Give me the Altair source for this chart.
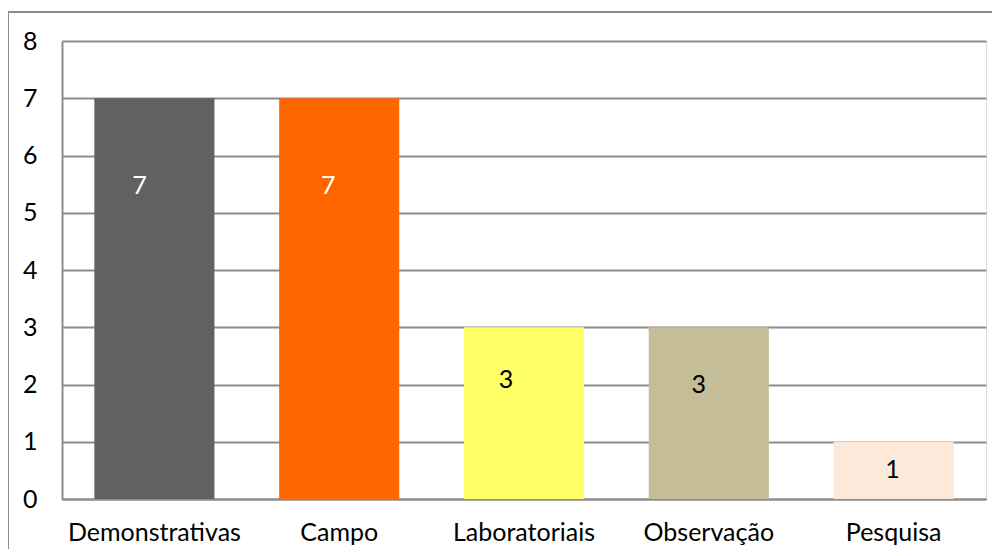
import altair as alt
import pandas as pd

categories = ["Demonstrativas", "Campo", "Laboratoriais", "Observação", "Pesquisa"]
values = [7, 7, 3, 3, 1]
bar_colors = ["#616161", "#ff6600", "#ffff66", "#c4bd97", "#fde9d9"]
label_colors = ["#ffffff", "#ffffff", "#000000", "#000000", "#000000"]
# where each value label sits (in axis units) and its horizontal nudge
label_at = [5.46, 5.46, 2.08, 2.0, 0.5]
label_dx = [-15, -11, -18, -10, -1]

df = pd.DataFrame({
    "cat": categories,
    "value": values,
    "label_at": label_at,
})

W, H = 924, 458
FONT = "Lato"
FS = 25
GRID = "#8c8c8c"

x_enc = alt.X("cat:N", sort=categories,
              scale=alt.Scale(paddingInner=0.35, paddingOuter=0.175),
              axis=alt.Axis(title=None, labelAngle=0, ticks=False, labelPadding=21,
                            labelFont=FONT, labelFontSize=FS, labelColor="#000000",
                            domainColor=GRID, domainWidth=2, grid=False))
y_scale = alt.Scale(domain=[0, 8], nice=False)

bars = alt.Chart(df).mark_bar().encode(
    x=x_enc,
    y=alt.Y("value:Q", scale=y_scale,
            axis=alt.Axis(title=None, values=list(range(9)), format="d", ticks=False,
                          labelPadding=25,
                          labelFont=FONT, labelFontSize=FS, labelColor="#000000",
                          domainColor=GRID, domainWidth=2,
                          grid=True, gridColor=GRID, gridWidth=2)),
    color=alt.Color("cat:N", scale=alt.Scale(domain=categories, range=bar_colors), legend=None),
)

layers = [bars]
for i, c in enumerate(categories):
    t = alt.Chart(df).transform_filter(alt.datum.cat == c).mark_text(
        font=FONT, fontSize=FS, color=label_colors[i], dx=label_dx[i], baseline="middle"
    ).encode(
        x=alt.X("cat:N", sort=categories),
        y=alt.Y("label_at:Q", scale=y_scale),
        text=alt.Text("value:Q"),
    )
    layers.append(t)

border_left = alt.Chart(df).mark_rule(color=GRID, strokeWidth=2).encode(
    x=alt.value(-54), y=alt.value(-29), y2=alt.value(H + 80))
border_top = alt.Chart(df).mark_rule(color=GRID, strokeWidth=2).encode(
    x=alt.value(-54), x2=alt.value(W + 40), y=alt.value(-29))
layers += [border_left, border_top]

chart = alt.layer(*layers).properties(
    width=W, height=H,
    autosize=alt.AutoSizeParams(type="none"),
    padding={"left": 54, "top": 33, "right": 6, "bottom": 50},
).configure_view(stroke=None).configure(background="#ffffff")

chart.save("out.html", embed_options={"renderer": "svg", "actions": False})
